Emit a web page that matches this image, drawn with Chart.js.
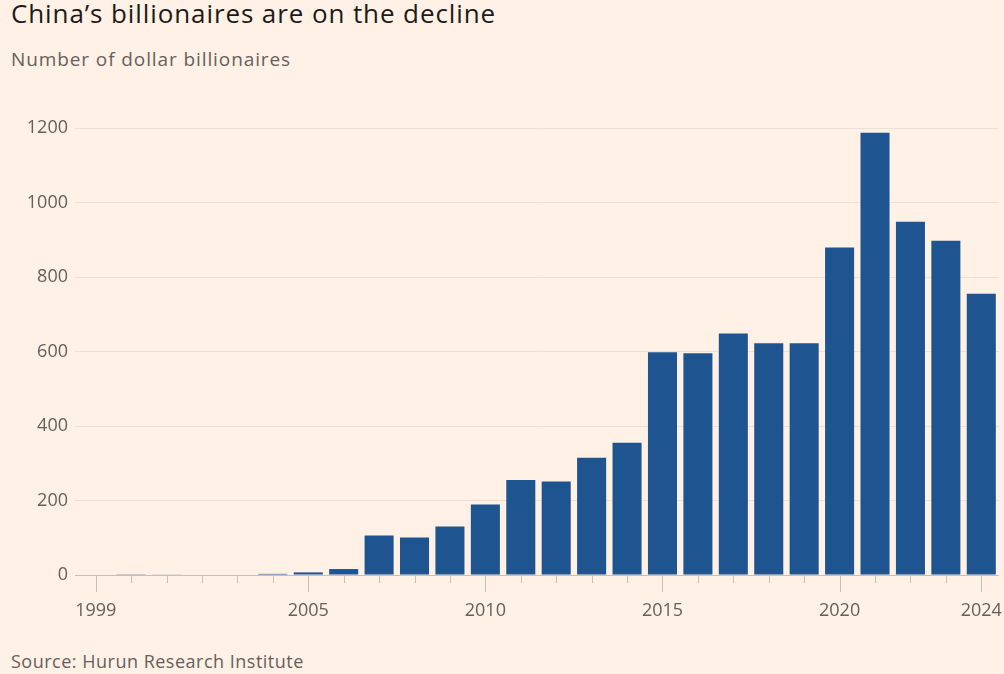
<!DOCTYPE html>
<html lang="en">
<head>
  <meta charset="UTF-8" />
  <title>China's billionaires are on the decline</title>
  <script src="https://cdn.jsdelivr.net/npm/chart.js"></script>
  <style>
    html, body {
      margin: 0;
      padding: 0;
      width: 1004px;
      height: 674px;
      overflow: hidden;
      background: #fff1e5;
      font-family: "Open Sans", Arial, sans-serif;
    }

    #title {
      position: absolute;
      left: 11px;
      top: -5px;
      font-size: 26px;
      letter-spacing: 0.9px;
      color: #1d1b1a;
      white-space: nowrap;
    }

    #subtitle {
      position: absolute;
      left: 11px;
      top: 46px;
      font-size: 19px;
      letter-spacing: 0.9px;
      color: #66605c;
      white-space: nowrap;
    }

    #source {
      position: absolute;
      left: 11px;
      top: 649px;
      font-size: 18px;
      letter-spacing: 0.5px;
      color: #66605c;
      white-space: nowrap;
    }

    #wrap {
      position: absolute;
      left: 0;
      top: 80px;
      width: 1030px;
      height: 560px;
    }
  </style>
</head>
<body>

  <div id="title">China’s billionaires are on the decline</div>
  <div id="subtitle">Number of dollar billionaires</div>

  <div id="wrap">
    <canvas id="billChart" width="1030" height="560"></canvas>
  </div>

  <div id="source">Source: Hurun Research Institute</div>

  <script>
    // data
    const years = ['1999', '2000', '2001', '2002', '2003', '2004', '2005', '2006', '2007', '2008',
                   '2009', '2010', '2011', '2012', '2013', '2014', '2015', '2016', '2017', '2018',
                   '2019', '2020', '2021', '2022', '2023', '2024'];
    const billionaires = [0, 2, 1, 0, 0, 3, 7, 16, 106, 101,
                          130, 189, 255, 251, 315, 355, 598, 595, 648, 622,
                          622, 879, 1187, 948, 897, 755];
    const labeledYears = ['1999', '2005', '2010', '2015', '2020', '2024'];
    const yMin = 0;
    const yMax = 1200;
    const yStep = 200;

    const tickGray = '#66605c';
    const gridColor = '#ecdfd4';
    const axisColor = '#c9bfb6';
    const tickFont = { family: '"Open Sans", Arial, sans-serif', size: 18 };

    // short ticks under every bar, longer under the labelled years
    const xTickMarks = {
      id: 'xTickMarks',
      afterDraw(chart) {
        const ctx = chart.ctx;
        const xs = chart.scales.x;
        const bottom = chart.chartArea.bottom;
        ctx.save();
        ctx.strokeStyle = axisColor;
        ctx.lineWidth = 1;
        years.forEach((yr, i) => {
          const x = Math.round(xs.getPixelForTick(i)) + 0.5;
          const len = labeledYears.includes(yr) ? 17 : 8;
          ctx.beginPath();
          ctx.moveTo(x, bottom);
          ctx.lineTo(x, bottom + len);
          ctx.stroke();
        });
        ctx.restore();
      }
    };

    const ctx = document.getElementById('billChart').getContext('2d');

    new Chart(ctx, {
      type: 'bar',
      data: {
        labels: years,
        datasets: [{
          label: 'Number of dollar billionaires',
          data: billionaires,
          backgroundColor: '#1e5590',
          borderWidth: 0,
          categoryPercentage: 1,
          barPercentage: 0.82
        }]
      },
      options: {
        responsive: false,
        animation: false,
        layout: {
          padding: { top: 48, right: 31, bottom: 0, left: 0 }
        },
        plugins: {
          legend: { display: false },
          tooltip: { enabled: false }
        },
        scales: {
          x: {
            offset: true,
            grid: { display: false },
            border: { display: false },
            ticks: {
              autoSkip: false,
              maxRotation: 0,
              padding: 17,
              color: tickGray,
              font: tickFont,
              callback: function(val, i) {
                const yr = years[i];
                return labeledYears.includes(yr) ? yr : '';
              }
            },
            afterFit: function(scale) {
              scale.height = 65;
            }
          },
          y: {
            min: yMin,
            max: yMax,
            border: { display: false },
            grid: {
              color: ctx => ctx.tick && ctx.tick.value === 0 ? axisColor : gridColor,
              tickLength: 3,
              lineWidth: 1
            },
            ticks: {
              stepSize: yStep,
              padding: 7,
              color: tickGray,
              font: tickFont,
              callback: v => String(v)
            },
            afterFit: function(scale) {
              scale.width = 78;
            }
          }
        }
      },
      plugins: [xTickMarks]
    });
  </script>

</body>
</html>
